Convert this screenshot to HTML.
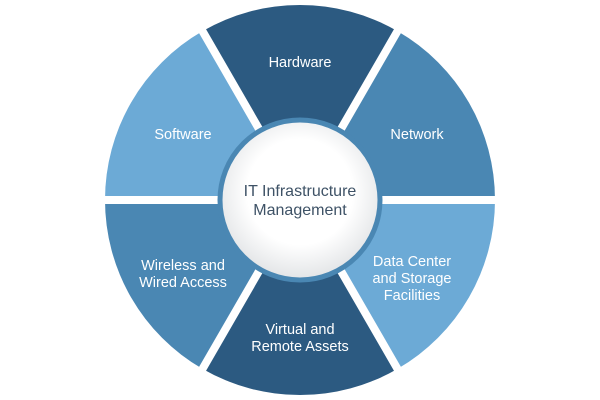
<!DOCTYPE html>
<html><head><style>body{margin:0;background:#fff}svg{display:block}</style></head><body>
<svg width="600" height="400" viewBox="0 0 600 400" xmlns="http://www.w3.org/2000/svg">
<defs><radialGradient id="g" cx="50%" cy="45%" r="55%"><stop offset="0.6" stop-color="#ffffff"/><stop offset="1" stop-color="#e2e4e6"/></radialGradient></defs>
<g transform="translate(300,200)">
<path d="M0 0 L-97.5 -168.9 A195 195 0 0 1 97.5 -168.9 Z" fill="#2c5a81"/>
<path d="M0 0 L97.5 -168.9 A195 195 0 0 1 195 0 Z" fill="#4a87b3"/>
<path d="M0 0 L195 0 A195 195 0 0 1 97.5 168.9 Z" fill="#6caad6"/>
<path d="M0 0 L97.5 168.9 A195 195 0 0 1 -97.5 168.9 Z" fill="#2c5a81"/>
<path d="M0 0 L-97.5 168.9 A195 195 0 0 1 -195 0 Z" fill="#4a87b3"/>
<path d="M0 0 L-195 0 A195 195 0 0 1 -97.5 -168.9 Z" fill="#6caad6"/>
<g stroke="#fff" stroke-width="8">
<line x1="-200" y1="0" x2="200" y2="0"/>
<line x1="-100" y1="-173.2" x2="100" y2="173.2"/>
<line x1="100" y1="-173.2" x2="-100" y2="173.2"/>
</g>
<circle r="80" fill="url(#g)" stroke="#4a87b3" stroke-width="5"/>
</g>
<g font-family="Liberation Sans, sans-serif" font-size="14.5" fill="#fff" text-anchor="middle">
<text x="300" y="67">Hardware</text>
<text x="417" y="139">Network</text>
<text x="183" y="139">Software</text>
<text x="412" y="266">Data Center</text>
<text x="412" y="283">and Storage</text>
<text x="412" y="300">Facilities</text>
<text x="183" y="270">Wireless and</text>
<text x="183" y="287">Wired Access</text>
<text x="300" y="334">Virtual and</text>
<text x="300" y="351">Remote Assets</text>
</g>
<g font-family="Liberation Sans, sans-serif" font-size="16" fill="#3e5266" text-anchor="middle">
<text x="300" y="196">IT Infrastructure</text>
<text x="300" y="215">Management</text>
</g>
</svg>
</body></html>
